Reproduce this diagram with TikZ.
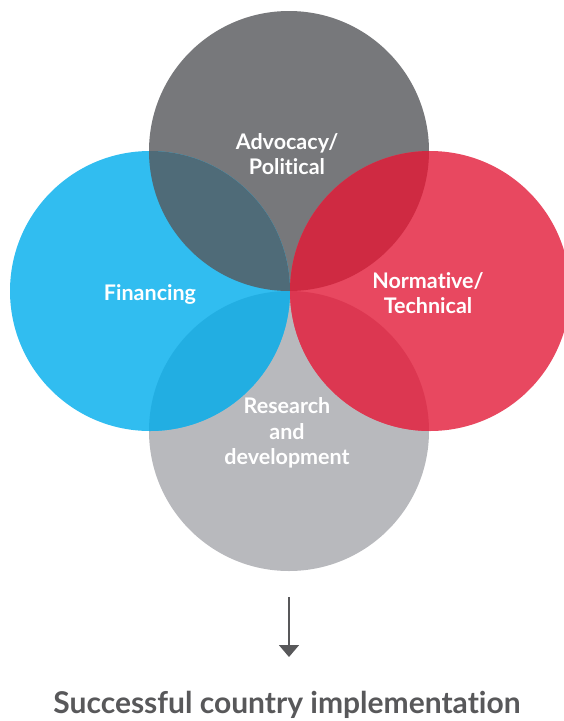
\documentclass[tikz,border=0pt]{standalone}
\usepackage{fontspec}
\setmainfont{Lato}[Ligatures={NoCommon,NoRequired,NoContextual,NoDiscretionary}]
\usetikzlibrary{arrows.meta}
\definecolor{cgray}{HTML}{77787B}
\definecolor{cblue}{HTML}{31BDF0}
\definecolor{cred}{HTML}{E84860}
\definecolor{clight}{HTML}{B8B9BD}
\definecolor{ctl}{HTML}{4F6B78}
\definecolor{ctr}{HTML}{CF2A42}
\definecolor{cbl}{HTML}{22AEE2}
\definecolor{cbr}{HTML}{DC3751}
\definecolor{ctext}{HTML}{58585A}
\tikzset{
  lbl/.style={text=white, font=\fontsize{21.5}{25.5}\selectfont\bfseries, align=center},
}
\begin{document}
\begin{tikzpicture}[x=1pt,y=-1pt]
\useasboundingbox (0,0) rectangle (564,721);
\coordinate (T) at (289,151);
\coordinate (L) at (150,291);
\coordinate (R) at (430,291);
\coordinate (B) at (289,431);
\def\rr{140}
\fill[clight] (B) circle (\rr);
\fill[cgray] (T) circle (\rr);
\fill[cblue] (L) circle (\rr);
\fill[cred] (R) circle (\rr);
\begin{scope}
  \clip (T) circle (\rr);
  \fill[ctl] (L) circle (\rr);
  \fill[ctr] (R) circle (\rr);
\end{scope}
\begin{scope}
  \clip (B) circle (\rr);
  \fill[cbl] (L) circle (\rr);
  \fill[cbr] (R) circle (\rr);
\end{scope}
\node[lbl] (adv) at (287,154) {Advocacy/\\Political};
\node[lbl] (fin) at (150,294) {Financing};
\node[lbl] (nor) at (428,293) {Normative/\\Technical};
\node[lbl] (res) at (287,433) {Research\\and\\development};
\coordinate (a1) at (289,597);
\coordinate (a2) at (289,657);
\draw[ctext, line width=1.6pt, -{Triangle[width=20pt,length=12pt]}] (a1) -- (a2);
\node[text=ctext, font=\fontsize{30}{32}\selectfont\bfseries] (out) at (287,705) {Successful country implementation};
\end{tikzpicture}
\end{document}
